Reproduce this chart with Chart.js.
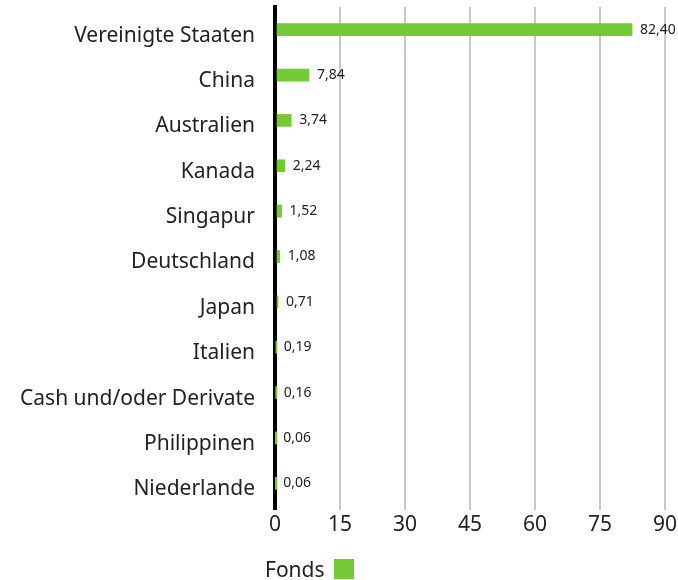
<!DOCTYPE html>
<html>
<head>
<meta charset="utf-8">
<script src="https://cdn.jsdelivr.net/npm/chart.js@4/dist/chart.umd.min.js"></script>
<style>
  body { margin: 0; background: #fff; }
  #wrap { position: relative; width: 678px; height: 580px; }
  #legend {
    position: absolute; left: 265px; top: 559px; height: 20px;
    display: flex; align-items: center;
    font: 21px "Noto Sans", sans-serif; color: #222;
  }
  #legend .box { width: 20px; height: 20px; margin-left: 9px; }
</style>
</head>
<body>
<div id="wrap">
  <canvas id="chart" width="678" height="580"></canvas>
  <div id="legend"></div>
</div>
<script>
// DATA
const countries = [
  "Vereinigte Staaten", "China", "Australien", "Kanada", "Singapur",
  "Deutschland", "Japan", "Italien", "Cash und/oder Derivate",
  "Philippinen", "Niederlande"
];
const fundWeights = [82.40, 7.84, 3.74, 2.24, 1.52, 1.08, 0.71, 0.19, 0.16, 0.06, 0.06];
const xTicks = [0, 15, 30, 45, 60, 75, 90];
const seriesName = "Fonds";
const barColor = "#74c934";

const FONT = '"Noto Sans", sans-serif';
const TEXT = "#222";

// value labels right of each bar
const valueLabels = {
  id: "valueLabels",
  afterDatasetsDraw(chart) {
    const ctx = chart.ctx;
    ctx.save();
    ctx.font = "14px " + FONT;
    ctx.fillStyle = TEXT;
    ctx.textBaseline = "middle";
    chart.getDatasetMeta(0).data.forEach((bar, i) => {
      const txt = fundWeights[i].toFixed(2).replace(".", ",");
      ctx.fillText(txt, bar.x + 8, bar.y);
    });
    ctx.restore();
  }
};

const chart = new Chart(document.getElementById("chart"), {
  type: "bar",
  data: {
    labels: countries,
    datasets: [{
      label: seriesName,
      data: fundWeights,
      backgroundColor: barColor,
      barThickness: 12
    }]
  },
  options: {
    indexAxis: "y",
    responsive: false,
    animation: false,
    layout: { padding: { top: 7, right: 13, bottom: 44, left: 0 } },
    plugins: { legend: { display: false }, tooltip: { enabled: false } },
    scales: {
      x: {
        min: 0, max: 90,
        afterBuildTicks: (s) => { s.ticks = xTicks.map((v) => ({ value: v })); },
        afterFit: (s) => { s.height = 30; s.paddingLeft = 0; s.paddingRight = 0; },
        border: { display: false },
        grid: {
          color: (c) => (c.tick && c.tick.value === 0 ? "#000" : "#c8c8c8"),
          lineWidth: (c) => (c.tick && c.tick.value === 0 ? 4 : 2),
          tickLength: 4
        },
        ticks: { font: { family: FONT, size: 21 }, color: TEXT, padding: 2, maxRotation: 0 }
      },
      y: {
        z: 1,
        afterFit: (s) => { s.width = 275; s.paddingTop = 0; s.paddingBottom = 0; },
        grid: { display: false },
        border: { display: true, color: "#000", width: 4 },
        ticks: { font: { family: FONT, size: 21 }, color: TEXT, padding: 12, labelOffset: 6 }
      }
    }
  },
  plugins: [valueLabels]
});

// legend: text then swatch
const legend = document.getElementById("legend");
chart.data.datasets.forEach((ds) => {
  const t = document.createElement("span");
  t.textContent = ds.label;
  const b = document.createElement("span");
  b.className = "box";
  b.style.background = ds.backgroundColor;
  legend.appendChild(t);
  legend.appendChild(b);
});
</script>
</body>
</html>
